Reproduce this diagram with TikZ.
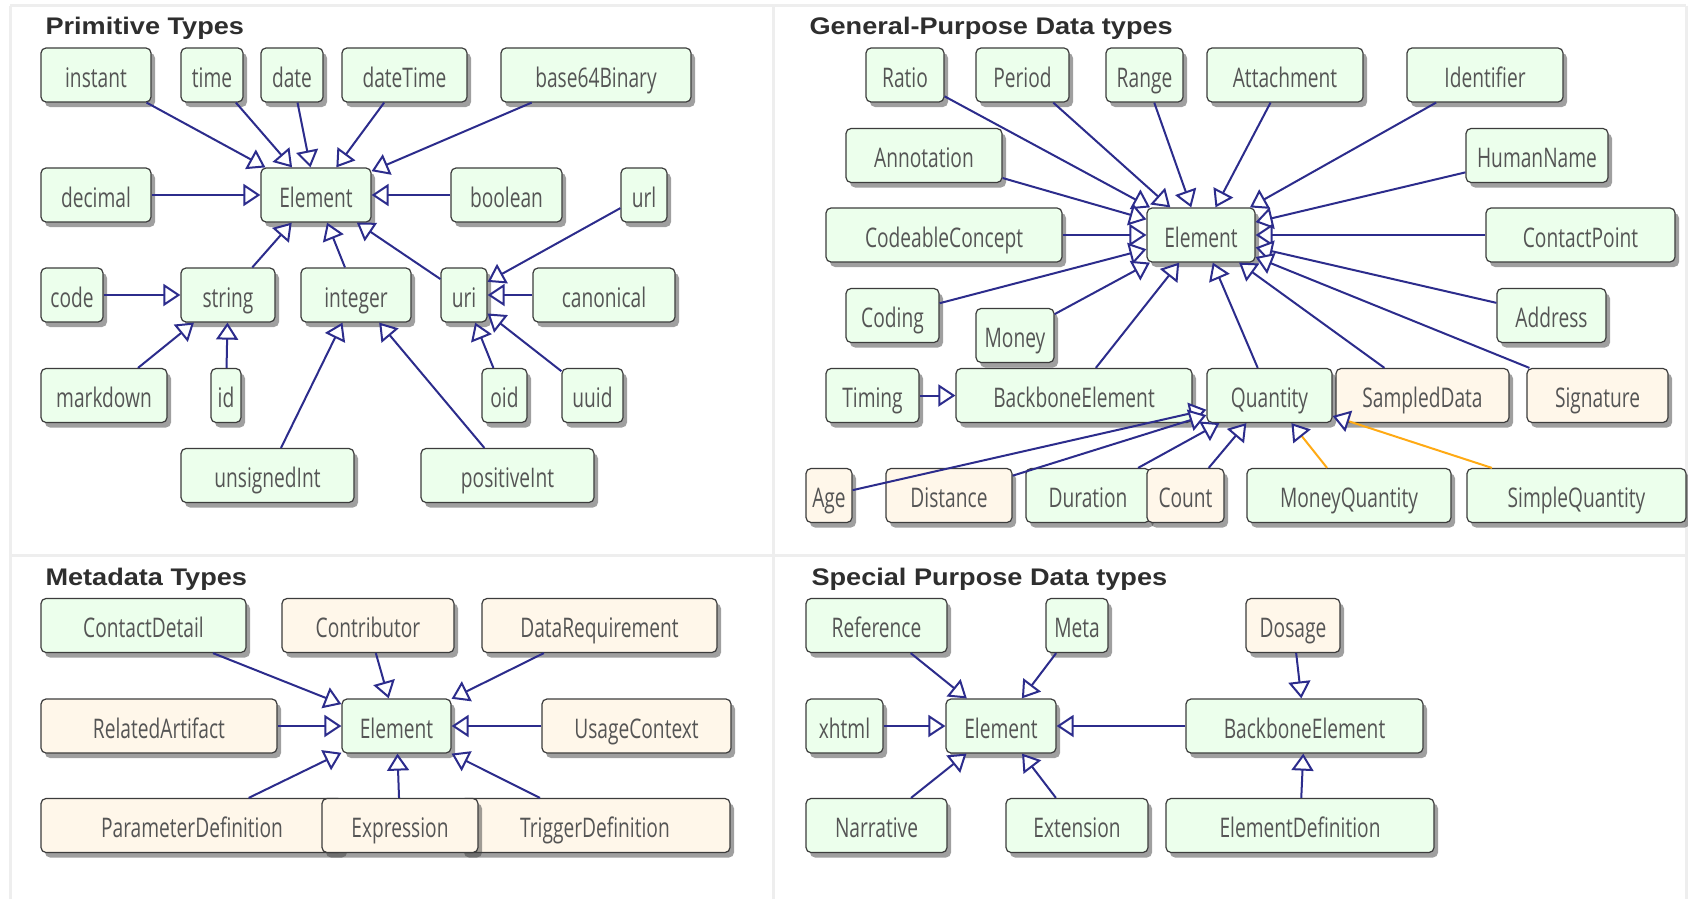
\documentclass[tikz,border=0pt]{standalone}
\usepackage{fontspec}
\setmainfont{Open Sans}[FakeStretch=0.71]
\newfontfamily\headfont{Liberation Sans}[FakeStretch=1.13]
\usetikzlibrary{
  arrows.meta,
  shadows
}
\definecolor{isablue}{RGB}{44,44,140}
\definecolor{isaorange}{RGB}{255,170,20}
\definecolor{boxgreen}{RGB}{236,255,236}
\definecolor{boxbeige}{RGB}{255,247,234}
\definecolor{boxline}{RGB}{60,60,60}
\definecolor{boxtext}{RGB}{85,85,85}
\definecolor{panelline}{RGB}{238,238,238}
\tikzset{
  datatype/.style={
    draw=boxline, line width=1.2pt, rounded corners=5pt,
    fill=boxgreen, text=boxtext,
    minimum height=54pt, minimum width=#1, inner sep=0pt,
    text height=24pt, text depth=0pt,
    font=\fontsize{27}{30}\selectfont,
    drop shadow={shadow xshift=4pt, shadow yshift=-5pt, opacity=.5, fill=black!75}
  },
  trialtype/.style={datatype=#1, fill=boxbeige},
  isa/.style={draw=isablue, line width=2pt,
    -{Triangle[length=17pt, width=22pt, color=isablue, fill=white]}},
  isa orange/.style={isa, draw=isaorange},
  heading/.style={anchor=base west, text=black!82,
    font=\headfont\bfseries\fontsize{24}{28}\selectfont},
  panel/.style={draw=panelline, line width=3pt}
}

\begin{document}
\begin{tikzpicture}[x=1pt, y=-1pt]
\useasboundingbox (0,0) rectangle (1688,899);
\fill[white] (0,0) rectangle (1688,899);
\draw[panel] (10,6) -- (1686,6) (10,555) -- (1686,555);
\draw[panel] (10,6) -- (10,899) (773,6) -- (773,899) (1686,6) -- (1686,899);

\node[heading] (p-title) at (42,35) {Primitive Types};
\node[heading] (g-title) at (806,35) {General-Purpose Data types};
\node[heading] (m-title) at (42,585) {Metadata Types};
\node[heading] (s-title) at (808,585) {Special Purpose Data types};

\foreach \n/\x/\y/\w in {
  instant/96/75/110, time/212/75/62, date/292/75/62, dateTime/404.5/75/125,
  base64Binary/596/75/190, decimal/96/195/110, Element/316/195/110,
  boolean/506.5/195/111, url/644/195/46, code/72/295/62, string/228/295/94,
  integer/356/295/110, uri/464/295/46, canonical/604/295/142,
  markdown/104/395.5/126, id/226/395.5/30, oid/504.5/395.5/45,
  uuid/592.5/395.5/61, unsignedInt/267.5/475.5/173, positiveInt/507.5/475.5/173
} \node[datatype=\w pt] (p-\n) at (\x,\y) {\n};

\foreach \n/\x/\y/\w in {
  Ratio/905/75/78, Period/1022.5/75/93, Range/1144.5/75/77,
  Attachment/1285/75/156, Identifier/1485/75/156, Annotation/924/155.5/156,
  HumanName/1537/155.5/142, CodeableConcept/944/235/236, Element/1201/235/108,
  ContactPoint/1580.5/235/189, Coding/892.5/315.5/93, Money/1015/335.5/78,
  Address/1551.5/315.5/109, Timing/872.5/395.5/93,
  BackboneElement/1074/395.5/236, Quantity/1269.5/395.5/125,
  Duration/1088/495.5/124, MoneyQuantity/1349/495.5/204,
  SimpleQuantity/1576.5/495.5/219
} \node[datatype=\w pt] (g-\n) at (\x,\y) {\n};
\foreach \n/\x/\y/\w in {
  SampledData/1422.5/395.5/173, Signature/1597.5/395.5/141,
  Age/829/495.5/46, Distance/949/495.5/126, Count/1185.5/495.5/77
} \node[trialtype=\w pt] (g-\n) at (\x,\y) {\n};

\foreach \n/\x/\y/\w in {
  ContactDetail/143.5/625.5/205, Element/396.5/726/109
} \node[datatype=\w pt] (m-\n) at (\x,\y) {\n};
\foreach \n/\x/\y/\w in {
  Contributor/368/625.5/172, DataRequirement/599.5/625.5/235,
  RelatedArtifact/159/726/236, UsageContext/636.5/726/189,
  ParameterDefinition/192/825.5/302, TriggerDefinition/595/825.5/270,
  Expression/400/825.5/156
} \node[trialtype=\w pt] (m-\n) at (\x,\y) {\n};

\foreach \n/\x/\y/\w in {
  Reference/876.5/625.5/141, Meta/1077/625.5/62, xhtml/844.5/726/77,
  Element/1001/726/110, BackboneElement/1304.5/726/237,
  Narrative/876.5/825.5/141, Extension/1077/825.5/142,
  ElementDefinition/1300/825.5/268
} \node[datatype=\w pt] (s-\n) at (\x,\y) {\n};
\node[trialtype=94pt] (s-Dosage) at (1293,625.5) {Dosage};

\foreach \k in {instant,time,date,dateTime,base64Binary,decimal,boolean,string,integer,uri}
  \draw[isa] (p-\k) -- (p-Element);
\foreach \k in {code,markdown,id}
  \draw[isa] (p-\k) -- (p-string);
\foreach \k in {unsignedInt,positiveInt}
  \draw[isa] (p-\k) -- (p-integer);
\foreach \k in {url,canonical,oid,uuid}
  \draw[isa] (p-\k) -- (p-uri);

\foreach \k in {Ratio,Period,Range,Attachment,Identifier,Annotation,HumanName,
  CodeableConcept,ContactPoint,Coding,Money,Address,BackboneElement,Quantity,
  SampledData,Signature}
  \draw[isa] (g-\k) -- (g-Element);
\draw[isa] (g-Timing) -- (g-BackboneElement);
\foreach \k in {Age,Distance,Duration,Count}
  \draw[isa] (g-\k) -- (g-Quantity);
\foreach \k in {MoneyQuantity,SimpleQuantity}
  \draw[isa orange] (g-\k) -- (g-Quantity);

\foreach \k in {ContactDetail,Contributor,DataRequirement,RelatedArtifact,
  UsageContext,ParameterDefinition,Expression,TriggerDefinition}
  \draw[isa] (m-\k) -- (m-Element);

\foreach \k in {Reference,Meta,xhtml,Narrative,Extension,BackboneElement}
  \draw[isa] (s-\k) -- (s-Element);
\foreach \k in {Dosage,ElementDefinition}
  \draw[isa] (s-\k) -- (s-BackboneElement);
\end{tikzpicture}
\end{document}
